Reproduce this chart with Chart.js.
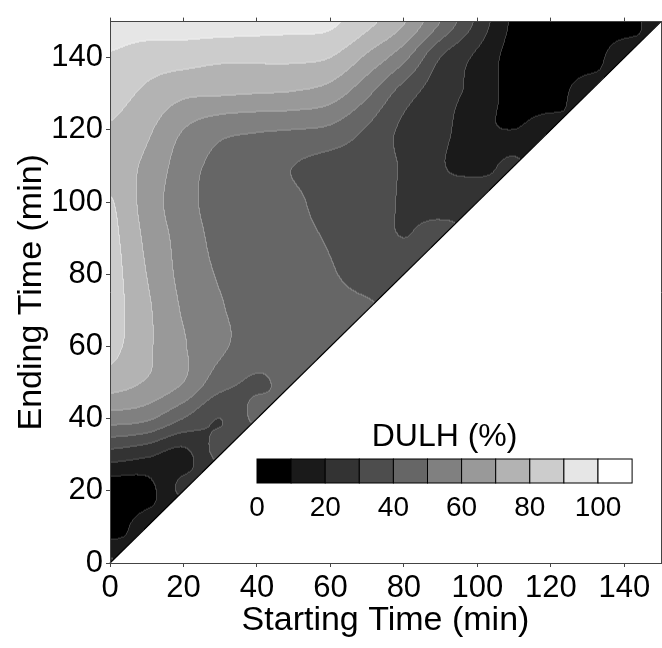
<!DOCTYPE html>
<html>
<head>
<meta charset="utf-8">
<script src="https://cdn.jsdelivr.net/npm/chart.js@4.4.1/dist/chart.umd.min.js"></script>
<style>
  html, body { margin: 0; padding: 0; background: #fff; }
  canvas { display: block; }
</style>
</head>
<body>
<canvas id="myChart" width="662" height="648"></canvas>
<script>
// DULH (%) on a 10 min grid: one row per ending time,
// each row holds the starting times 0 .. ending time
const startTimes = [0, 10, 20, 30, 40, 50, 60, 70, 80, 90, 100, 110, 120, 130, 140, 150];
const endTimes = [0, 10, 20, 30, 40, 50, 60, 70, 80, 90, 100, 110, 120, 130, 140, 150];

const dulhEnd0 = [22];
const dulhEnd10 = [4, 14];
const dulhEnd20 = [3, 6, 22];
const dulhEnd30 = [26, 22, 17, 33];
const dulhEnd40 = [55, 52, 40, 30, 42];
const dulhEnd50 = [75, 69, 60, 44, 39, 43];
const dulhEnd60 = [83, 72, 61, 52, 45, 45, 45];
const dulhEnd70 = [84, 72, 59, 51, 46, 45, 44, 42];
const dulhEnd80 = [84, 70, 57, 49, 45, 44, 41, 36, 37];
const dulhEnd90 = [83, 68, 56, 47, 44, 43, 39, 35, 30, 34];
const dulhEnd100 = [81, 66, 54, 46, 45, 42, 36, 34, 29, 25, 29];
const dulhEnd110 = [75, 68, 55, 47, 45, 40, 36, 34, 29, 21, 16, 22];
const dulhEnd120 = [79, 72, 60, 53, 51, 50, 48, 39, 28, 23, 13, 10, 15];
const dulhEnd130 = [84, 78, 72, 71, 70, 69, 65, 52, 35, 24, 17, 6, 3, 16];
const dulhEnd140 = [89, 85, 84, 82, 82, 82, 80, 68, 53, 30, 18, 6, 2, 3, 16];
const dulhEnd150 = [95, 95, 95, 95, 94, 93, 92, 83, 71, 50, 28, 8, 3, 2, 3, 17];

const dulhRows = [dulhEnd0, dulhEnd10, dulhEnd20, dulhEnd30, dulhEnd40, dulhEnd50,
  dulhEnd60, dulhEnd70, dulhEnd80, dulhEnd90, dulhEnd100, dulhEnd110,
  dulhEnd120, dulhEnd130, dulhEnd140, dulhEnd150];

// colour bar: one box per 10 % step, labels every 20 %
const barLevels = [0, 10, 20, 30, 40, 50, 60, 70, 80, 90, 100];
const barLabels = [0, 20, 40, 60, 80, 100];

const FONT = "'Liberation Sans', Arial, sans-serif";

function shade(level) {
  return Math.round(255 * level / 10);
}

// value at grid node (i = start index, j = end index); mirrored below the diagonal
function node(i, j) {
  i = Math.max(0, Math.min(15, i));
  j = Math.max(0, Math.min(15, j));
  return i <= j ? dulhRows[j][i] : dulhRows[i][j];
}

function catmull(p0, p1, p2, p3, t) {
  return p1 + 0.5 * t * (p2 - p0 + t * (2 * p0 - 5 * p1 + 4 * p2 - p3 + t * (3 * (p1 - p2) + p3 - p0)));
}

function sampleDulh(start, end) {
  const u = start / 10, v = end / 10;
  const i0 = Math.max(0, Math.min(14, Math.floor(u)));
  const j0 = Math.max(0, Math.min(14, Math.floor(v)));
  const tu = u - i0, tv = v - j0;
  const col = [];
  for (let m = -1; m <= 2; m++) {
    const j = j0 + m;
    col.push(catmull(node(i0 - 1, j), node(i0, j), node(i0 + 1, j), node(i0 + 2, j), tu));
  }
  return catmull(col[0], col[1], col[2], col[3], tv);
}

// filled contours, painted before the axes so the frame sits on top
const contourFill = {
  id: 'contourFill',
  beforeDraw(chart) {
    const {ctx, chartArea: a, scales: {x, y}} = chart;
    const w = Math.round(a.right - a.left);
    const h = Math.round(a.bottom - a.top);
    const lvl = new Int8Array(w * h).fill(-1);
    for (let r = 0; r < h; r++) {
      const ve = y.getValueForPixel(a.top + r + 0.5);
      for (let c = 0; c < w; c++) {
        const vs = x.getValueForPixel(a.left + c + 0.5);
        if (ve < vs) continue;
        const val = sampleDulh(vs, ve);
        lvl[r * w + c] = Math.max(0, Math.min(10, Math.floor(val / 10)));
      }
    }
    const off = document.createElement('canvas');
    off.width = w;
    off.height = h;
    const octx = off.getContext('2d');
    const img = octx.createImageData(w, h);
    for (let r = 0; r < h; r++) {
      for (let c = 0; c < w; c++) {
        const k = r * w + c;
        const L = lvl[k];
        let g = 255;
        if (L >= 0) {
          g = shade(L);
          let other = L;
          if (c + 1 < w && lvl[k + 1] >= 0 && lvl[k + 1] !== L) other = lvl[k + 1];
          else if (r + 1 < h && lvl[k + w] >= 0 && lvl[k + w] !== L) other = lvl[k + w];
          if (other !== L) {
            // thin contour line, a little lighter than the lighter band
            const s = shade(Math.max(L, other));
            g = Math.min(255, Math.round(s + 40 - s * 0.12));
          }
        }
        img.data[k * 4] = g;
        img.data[k * 4 + 1] = g;
        img.data[k * 4 + 2] = g;
        img.data[k * 4 + 3] = 255;
      }
    }
    octx.putImageData(img, 0, 0);
    ctx.drawImage(off, a.left, a.top);

    // diagonal: starting time = ending time
    ctx.save();
    ctx.beginPath();
    ctx.moveTo(x.getPixelForValue(0), y.getPixelForValue(0));
    ctx.lineTo(x.getPixelForValue(150), y.getPixelForValue(150));
    ctx.strokeStyle = '#000';
    ctx.lineWidth = 1.2;
    ctx.stroke();
    ctx.restore();
  },
  afterDraw(chart) {
    const ctx = chart.ctx;
    const left = 257, top = 459, bw = 34.1, bh = 24;
    ctx.save();
    barLevels.forEach((lv, i) => {
      const g = shade(lv / 10);
      ctx.fillStyle = `rgb(${g},${g},${g})`;
      ctx.fillRect(left + i * bw, top, bw, bh);
      ctx.strokeStyle = '#000';
      ctx.lineWidth = 1;
      ctx.strokeRect(left + i * bw, top, bw, bh);
    });
    ctx.fillStyle = '#000';
    ctx.textAlign = 'center';
    ctx.textBaseline = 'middle';
    ctx.font = `28px ${FONT}`;
    barLabels.forEach(lab => {
      const i = barLevels.indexOf(lab);
      ctx.fillText(String(lab), left + i * bw, 508);
    });
    ctx.font = `32px ${FONT}`;
    ctx.fillText('DULH (%)', left + bw * barLevels.length / 2, 437);
    ctx.restore();
  }
};

const gridPoints = [];
dulhRows.forEach((row, j) => row.forEach((v, i) => gridPoints.push({x: startTimes[i], y: endTimes[j]})));

const axisGrid = {drawOnChartArea: false, drawTicks: true, tickLength: 4, color: '#444'};
const axisBorder = {color: '#444', width: 1};

const config = {
  type: 'scatter',
  data: {
    datasets: [{
      label: 'DULH (%)',
      data: gridPoints,
      pointRadius: 0,
      showLine: false
    }]
  },
  options: {
    responsive: false,
    animation: false,
    events: [],
    layout: {padding: 0},
    plugins: {legend: {display: false}, tooltip: {enabled: false}},
    scales: {
      x: {
        type: 'linear', position: 'bottom', min: 0, max: 150,
        afterFit: s => { s.height = 85; },
        ticks: {stepSize: 20, includeBounds: false, color: '#000', padding: 3, maxRotation: 0, autoSkip: false,
          font: {family: FONT, size: 31}},
        grid: axisGrid,
        border: axisBorder,
        title: {display: true, text: 'Starting Time (min)', color: '#000',
          font: {family: FONT, size: 34}, padding: {top: 0, bottom: 7}}
      },
      y: {
        type: 'linear', position: 'left', min: 0, max: 150,
        afterFit: s => { s.width = 110; },
        ticks: {stepSize: 20, includeBounds: false, color: '#000', padding: 3, autoSkip: false,
          font: {family: FONT, size: 31}},
        grid: axisGrid,
        border: axisBorder,
        title: {display: true, text: 'Ending Time (min)', color: '#000',
          font: {family: FONT, size: 34}, padding: {top: 11, bottom: 0}}
      },
      xTop: {
        type: 'linear', position: 'top', min: 0, max: 150,
        afterFit: s => { s.height = 11; },
        ticks: {display: false, stepSize: 20, includeBounds: false},
        grid: axisGrid,
        border: axisBorder
      },
      yRight: {
        type: 'linear', position: 'right', min: 0, max: 150,
        afterFit: s => { s.width = 1; },
        ticks: {display: false},
        grid: {display: false},
        border: axisBorder
      }
    }
  },
  plugins: [contourFill]
};

const myChart = new Chart(document.getElementById('myChart'), config);
</script>
</body>
</html>
